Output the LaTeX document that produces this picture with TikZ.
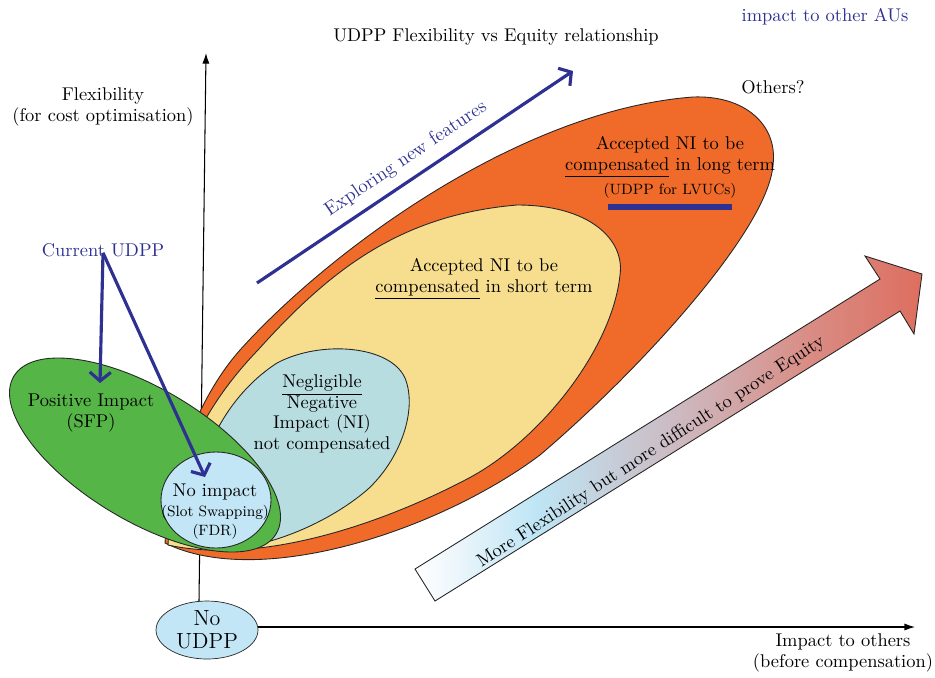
\documentclass[tikz,border=0pt]{standalone}
\usepackage{amsmath}
\usetikzlibrary{arrows.meta,shapes.geometric}

\definecolor{navy}{RGB}{46,49,146}
\definecolor{longorange}{RGB}{240,106,42}
\definecolor{shortyellow}{RGB}{247,222,143}
\definecolor{nicyan}{RGB}{184,221,224}
\definecolor{sfpgreen}{RGB}{85,181,71}
\definecolor{fdrblue}{RGB}{194,230,245}
\definecolor{eqwhite}{RGB}{236,246,251}
\definecolor{eqblue}{RGB}{190,229,245}
\definecolor{eqgray}{RGB}{205,185,192}
\definecolor{eqpink}{RGB}{217,140,132}
\definecolor{eqred}{RGB}{221,110,95}

\pgfdeclarehorizontalshading{equityshade}{100bp}{color(0bp)=(white); color(25bp)=(white); color(29bp)=(eqwhite); color(37bp)=(eqblue); color(51bp)=(eqgray); color(64bp)=(eqpink); color(75bp)=(eqred); color(100bp)=(eqred)}

\tikzset{
  txt/.style={align=center, inner sep=1pt},
  navytxt/.style={txt, text=navy},
  smalltxt/.style={font=\fontsize{8.5}{10}\selectfont},
  region/.style={draw=black!85, line width=0.5pt},
  pointer/.style={navy, line width=1.8pt, -{Straight Barb[length=5pt,width=12pt]}},
  axis/.style={line width=0.6pt, -{Latex[length=6pt,width=4pt]}},
}

\begin{document}
\begin{tikzpicture}[x=0.02cm, y=-0.02cm, font=\fontsize{10.5}{11.8}\selectfont]
    \useasboundingbox (0,0) rectangle (935,677);

    % axes
    \node[txt, draw=black!85, fill=fdrblue, ellipse, minimum width=2.04cm, minimum height=1.16cm,
          font=\fontsize{12.5}{13}\selectfont, inner sep=0pt] (noudpp) at (207,630) {No\\UDPP};
    \coordinate (ytop) at (206,53);
    \coordinate (xend) at (915,627);
    \draw[axis] (199,601) -- (ytop);
    \draw[axis] (noudpp.east |- 0,627) -- (xend);

    % regions
    \draw[region, fill=longorange] (165,543) .. controls (170,470) and (200,395) .. (240,350)
        .. controls (330,250) and (520,110) .. (693,97)
        .. controls (745,95) and (778,125) .. (773,165)
        .. controls (768,230) and (640,370) .. (540,455)
        .. controls (440,530) and (260,590) .. cycle;
    \draw[region, fill=shortyellow] (168,545) .. controls (172,470) and (205,405) .. (258,350)
        .. controls (330,270) and (400,215) .. (517,205)
        .. controls (590,205) and (625,240) .. (620,275)
        .. controls (612,350) and (540,440) .. (469,478)
        .. controls (380,525) and (260,565) .. cycle;
    \draw[region, fill=nicyan] (190,545) .. controls (190,470) and (220,400) .. (277,363)
        .. controls (320,340) and (390,345) .. (405,378)
        .. controls (418,410) and (400,460) .. (367,490)
        .. controls (320,530) and (240,560) .. cycle;
    \draw[region, fill=sfpgreen, shift={(145,455)}, rotate=-31] (0,0) ellipse [x radius=153, y radius=66];
    \draw[region, fill=fdrblue] (216,500) ellipse [x radius=55, y radius=48];

    % labels
    \node[navytxt] (otheraus) at (825,17) {impact to other AUs};
    \node[txt] (title) at (496,37) {UDPP Flexibility vs Equity relationship};
    \node[txt] (others) at (773,87) {Others?};
    \node[txt] (flex) at (103,107) {Flexibility\\(for cost optimisation)};
    \node[txt] (impact) at (843,653) {Impact to others\\(before compensation)};
    \node[navytxt] (current) at (103,250) {Current UDPP};
    \node[txt] (longterm) at (670,157) {Accepted NI to be\\\underline{compensated} in long term};
    \node[txt, smalltxt] (lvuc) at (670,191) {(UDPP for LVUCs)};
    \fill[navy] (608,204) rectangle (732,210);
    \node[txt] (shortterm) at (484,279) {Accepted NI to be\\\underline{compensated} in short term};
    \node[txt] (negl) at (322,414) {\underline{Negligible}\\Negative\\Impact (NI)\\not compensated};
    \node[txt] (sfp) at (91,413) {Positive Impact\\(SFP)};
    \node[txt, font=\fontsize{10.5}{11.1}\selectfont] (fdr) at (215,512)
        {No impact\\{\fontsize{8.5}{11.1}\selectfont (Slot Swapping)}\\{\fontsize{8.5}{11.1}\selectfont (FDR)}};

    % current UDPP pointers
    \coordinate (sfptip) at (100,383);
    \coordinate (fdrtip) at (205,477);
    \draw[pointer] (current.south) ++(0,-6) -- (sfptip);
    \draw[pointer] (current.south) ++(0,-6) -- (fdrtip);

    % exploring
    \coordinate (explstart) at (257,283);
    \coordinate (explend) at (573,71);
    \draw[pointer] (explstart) -- (explend);
    \node[navytxt, rotate=34, font=\fontsize{11}{12}\selectfont] (explore) at (406,159) {Exploring new features};

    % flexibility vs equity arrow
    \draw[black!85, line width=0.5pt, shading=equityshade]
        (415,569) -- (880,279) -- (865,256) -- (922,274) -- (914,334) -- (900,311) -- (435,601) -- cycle;
    \node[txt, rotate=33] (equity) at (651,452) {More Flexibility but more difficult to prove Equity};
\end{tikzpicture}
\end{document}
